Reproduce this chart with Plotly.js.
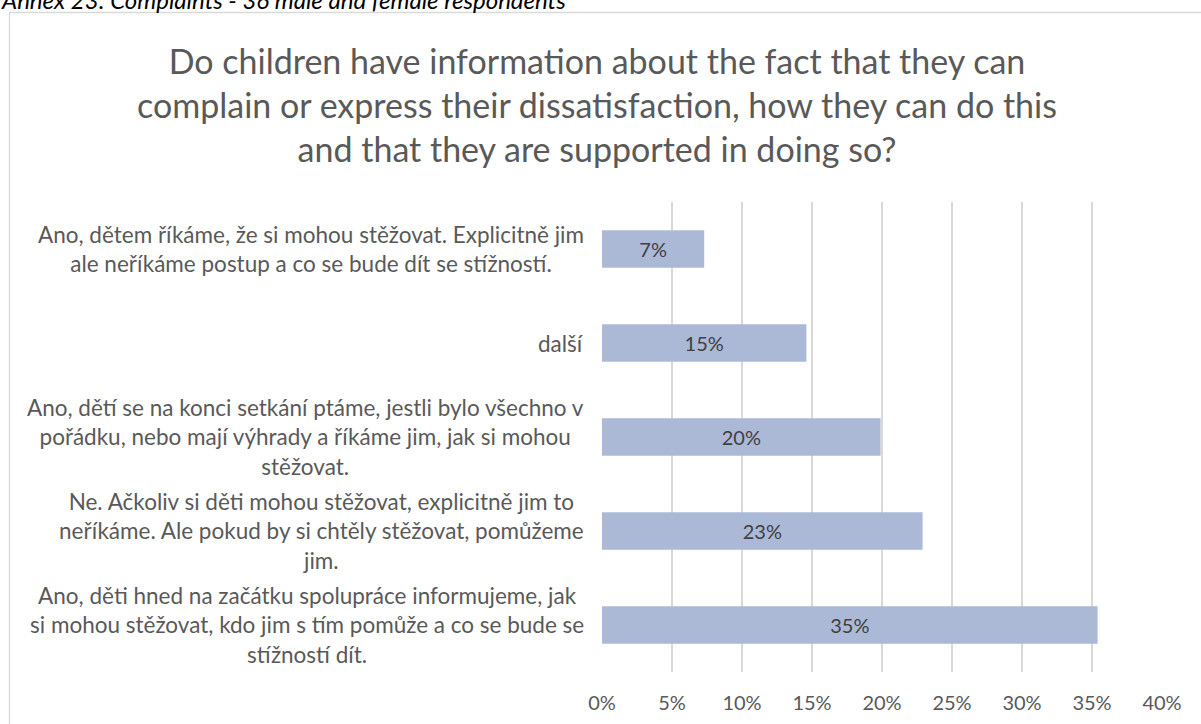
<!DOCTYPE html>
<html>
<head>
<meta charset="utf-8">
<script src="https://cdn.plot.ly/plotly-3.0.1.min.js"></script>
<style>html,body{margin:0;padding:0;background:#fff;}#chart{width:1201px;height:724px;}</style>
</head>
<body>
<div id="chart"></div>
<script>
// ---- data ----
const categories = [
  "Ano, děti hned na začátku spolupráce informujeme, jak<br>si mohou stěžovat, kdo jim s tím pomůže a co se bude se<br>stížností dít.",
  "Ne. Ačkoliv si děti mohou stěžovat, explicitně jim to<br>neříkáme. Ale pokud by si chtěly stěžovat, pomůžeme<br>jim.",
  "Ano, dětí se na konci setkání ptáme, jestli bylo všechno v<br>pořádku, nebo mají výhrady a říkáme jim, jak si mohou<br>stěžovat.",
  "další",
  "Ano, dětem říkáme, že si mohou stěžovat. Explicitně jim<br>ale neříkáme postup a co se bude dít se stížností."
];
const values = [35.4, 22.9, 19.9, 14.6, 7.3];
const valueLabels = ["35%", "23%", "20%", "15%", "7%"];
const tickVals = [0, 5, 10, 15, 20, 25, 30, 35, 40];
const tickText = ["0%", "5%", "10%", "15%", "20%", "25%", "30%", "35%", "40%"];
const titleText = "Do children have information about the fact that they can<br>complain or express their dissatisfaction, how they can do this<br>and that they are supported in doing so?";
const headerText = "Annex 23: Complaints - 36 male and female respondents";

// ---- layout helpers (pixels -> paper) ----
const W = 1201, H = 724;
const mL = 602, mR = 39, mT = 202, mB = 52;
const pw = W - mL - mR, ph = H - mT - mB;
const px = x => (x - mL) / pw;
const py = y => 1 + (mT - y) / ph;

const FONT = "Lato, 'Open Sans', sans-serif";

const trace = {
  type: "bar",
  orientation: "h",
  x: values,
  y: categories,
  text: valueLabels,
  texttemplate: "%{text}",
  textposition: "inside",
  insidetextanchor: "middle",
  textangle: 0,
  constraintext: "none",
  textfont: {family: FONT, size: 20, color: "#404040"},
  marker: {color: "#abb9d7", line: {width: 0}},
  hoverinfo: "none",
  cliponaxis: false
};

const annotations = categories.map(c => ({
  xref: "paper", yref: "y",
  x: px(586), y: c,
  xanchor: "right", yanchor: "middle",
  align: "center",
  text: c,
  showarrow: false,
  font: {family: FONT, size: 22.5, color: "#595959"}
}));

annotations.push({
  xref: "paper", yref: "paper",
  x: px(-1), y: py(0),
  xanchor: "left", yanchor: "middle",
  text: "<i>" + headerText + "</i>",
  showarrow: false,
  font: {family: FONT, size: 24, color: "#000000"}
});

const layout = {
  width: W, height: H,
  margin: {l: mL, r: mR, t: mT, b: mB, pad: 0},
  paper_bgcolor: "#ffffff",
  plot_bgcolor: "#ffffff",
  showlegend: false,
  bargap: 0.6,
  title: {
    text: titleText,
    font: {family: FONT, size: 34, color: "#595959"},
    xref: "container", yref: "container",
    x: 597 / W, xanchor: "center",
    y: 1 - 74 / H, yanchor: "middle"
  },
  xaxis: {
    range: [0, 40],
    tickvals: tickVals,
    ticktext: tickText,
    showgrid: true,
    gridcolor: "#d9d9d9",
    gridwidth: 1.5,
    zeroline: false,
    showline: false,
    ticks: "",
    ticklabelstandoff: 17,
    tickfont: {family: FONT, size: 20, color: "#595959"},
    fixedrange: true
  },
  yaxis: {
    type: "category",
    categoryorder: "array",
    categoryarray: categories,
    showticklabels: false,
    showgrid: false,
    zeroline: false,
    showline: false,
    ticks: "",
    fixedrange: true
  },
  shapes: [{
    type: "rect", xref: "paper", yref: "paper",
    x0: px(9.5), x1: px(1300), y0: py(12.5), y1: py(800),
    line: {color: "#d9d9d9", width: 1.3},
    fillcolor: "rgba(0,0,0,0)",
    layer: "below"
  }],
  annotations: annotations
};

Plotly.newPlot("chart", [trace], layout, {displayModeBar: false, staticPlot: true});
</script>
</body>
</html>
